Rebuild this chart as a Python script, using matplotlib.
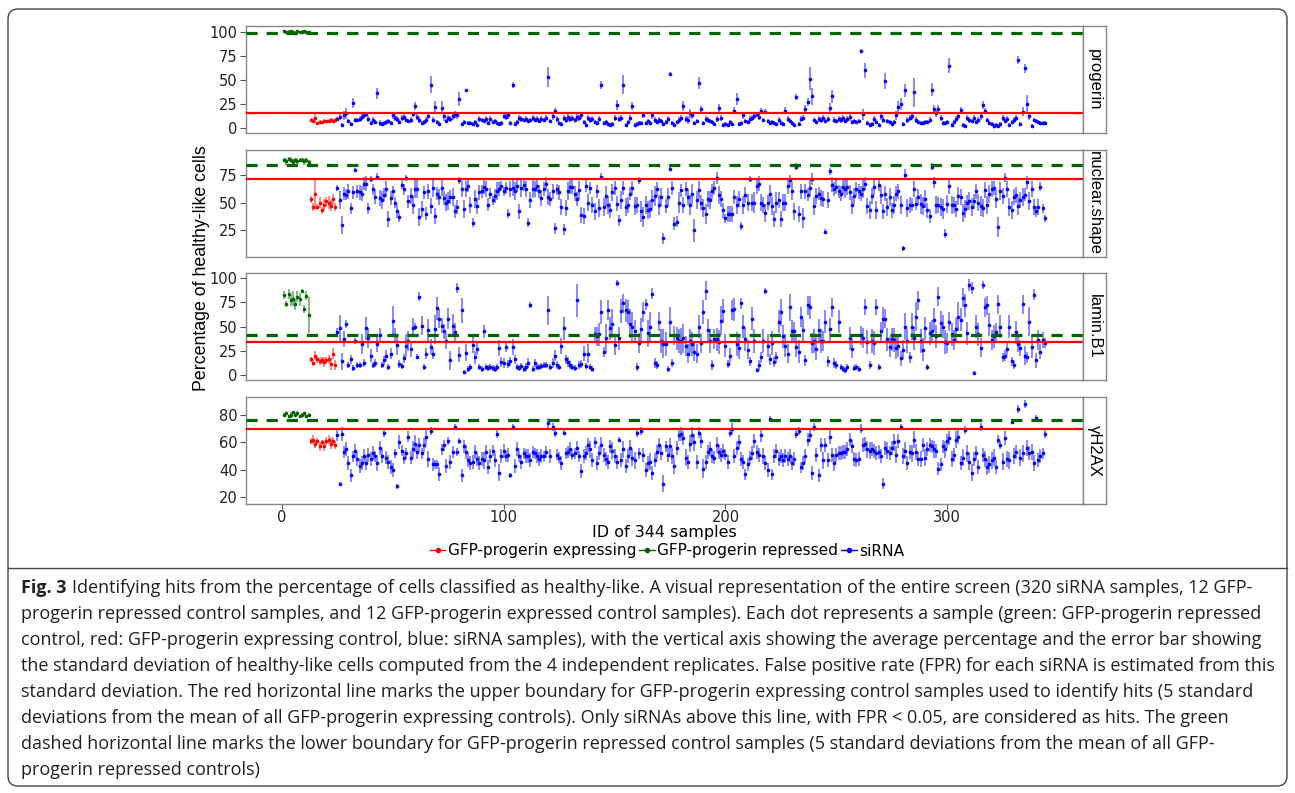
import numpy as np
import matplotlib
matplotlib.use("Agg")
import matplotlib.pyplot as plt
from matplotlib.lines import Line2D
from matplotlib.patches import FancyBboxPatch
from matplotlib.transforms import IdentityTransform


def vals(s):
    return np.array(s.split(), dtype=float)


panel_names = ["progerin", "nuclear.shape", "lamin.B1", "γH2AX"]

# controls: 12 GFP-progerin repressed (green), 12 GFP-progerin expressing (red)
green_mean = [
    vals("101 100 100 101 100 99 101 100 100 101 100 100"),
    vals("88 87 89 88 86 88 87 88 88 87 88 86"),
    vals("83 73 84 77 79 73 81 78 87 68 82 62"),
    vals("80 81 79 80 82 80 81 79 80 81 79 80"),
]
green_sd = [
    vals("1 1 2 1 1 1 1 1 2 1 1 1"),
    vals("2 3 2 3 3 2 3 2 2 3 2 2"),
    vals("4 3 5 6 8 6 6 7 2 4 5 19"),
    vals("1 1 1 2 1 1 2 1 1 1 1 1"),
]
red_mean = [
    vals("8 7 10 5 6 6 7 7 7 8 7 8"),
    vals("53 46 58 46 50 43 48 51 50 47 53 46"),
    vals("16 12 20 16 14 15 13 15 16 11 22 10"),
    vals("61 62 59 61 57 60 57 61 62 59 61 58"),
]
red_sd = [
    vals("2 2 4 1 2 1 2 1 2 2 1 2"),
    vals("3 4 14 3 5 3 5 4 6 5 5 4"),
    vals("3 3 5 4 4 4 5 4 5 6 6 5"),
    vals("2 3 3 2 3 2 3 3 3 4 3 3"),
]

# siRNA samples (IDs 25..344)
prog_mean = vals("""
9 11 3 13 15 7 4 26 8 8 9 11 13 14 9 5 8 6 36 5
4 5 6 7 5 13 10 9 6 10 11 8 7 8 14 23 11 8 5 6
8 12 45 8 22 6 4 21 12 7 10 9 12 14 13 30 4 6 39 5
5 4 6 3 9 8 7 9 5 9 6 7 5 4 5 12 11 13 5 45
4 6 10 9 8 9 7 8 10 8 9 7 9 8 10 53 7 12 18 9
5 4 10 8 11 9 10 8 11 10 13 6 3 10 8 9 6 5 9 45
5 6 4 3 4 10 24 9 10 45 3 6 10 23 3 4 5 5 13 5
7 5 13 8 6 8 7 4 6 9 56 5 3 6 8 10 23 9 8 15
13 5 7 47 20 5 9 8 7 6 4 9 21 10 3 4 3 6 4 18
30 4 5 13 7 6 9 10 12 14 11 18 8 17 7 5 6 5 4 8
5 4 18 9 7 5 3 32 4 9 10 20 27 51 33 8 6 9 8 10
7 9 21 33 8 7 9 8 10 7 9 11 6 7 6 7 80 14 60 5
3 4 9 6 3 12 8 49 7 6 4 6 13 22 25 4 39 8 10 12
37 8 6 5 5 6 6 8 40 20 15 20 10 5 5 6 65 3 6 9
12 19 3 2 10 8 7 10 6 8 12 24 18 8 5 4 2 3 2 4
10 7 9 3 6 8 10 71 4 17 62 25 12 2 8 7 6 5 5 5
""")
prog_sd = vals("""
2 3 2 5 6 2 2 5 2 2 3 3 3 3 3 2 3 2 6 3
2 2 2 2 2 4 3 3 2 3 3 2 2 3 3 4 3 3 2 2
3 3 9 3 6 2 2 7 5 2 3 3 4 4 4 7 2 2 2 2
2 2 2 2 3 2 2 3 2 3 2 2 2 2 2 3 3 4 2 3
2 2 3 3 2 3 2 2 3 2 3 2 3 2 3 10 2 4 3 3
2 2 3 3 4 3 3 2 4 3 4 2 2 3 3 3 2 2 3 4
2 2 2 2 2 3 5 3 3 10 2 2 3 4 2 2 2 2 3 2
2 2 4 3 2 3 2 2 2 3 2 2 2 2 3 3 5 3 4 5
4 2 2 6 3 2 3 3 2 2 2 3 4 3 2 2 2 2 2 4
6 2 2 4 2 2 3 3 3 3 3 3 2 3 2 2 2 2 2 3
2 2 4 3 2 2 2 3 2 3 3 4 4 12 9 2 2 3 3 3
2 3 5 7 3 2 3 3 3 2 3 4 2 2 2 2 2 6 8 2
2 2 3 2 2 4 3 8 2 2 2 2 5 6 6 2 7 3 3 4
15 3 2 2 2 2 2 3 7 4 4 4 3 2 2 2 8 2 2 3
4 3 2 2 3 3 2 3 2 3 4 4 3 2 2 2 2 2 2 2
3 2 3 2 2 3 3 4 2 5 5 9 4 2 2 2 2 2 2 2
""")

nuc_mean = vals("""
63 52 30 58 57 60 45 59 79 60 59 58 67 67 45 71 62 55 73 54
52 57 62 35 54 60 50 42 37 66 62 72 51 56 48 62 62 37 44 59
40 60 47 63 38 58 55 63 54 50 51 55 55 42 46 70 62 44 62 65
48 32 53 47 59 60 64 62 48 58 52 56 60 62 65 60 63 40 62 63
60 65 42 63 66 62 32 52 62 62 65 60 54 62 67 55 53 60 27 62
59 46 26 45 60 64 64 58 53 61 39 38 65 50 63 48 42 60 45 73
46 56 48 43 59 63 49 34 52 63 46 48 58 63 47 48 70 42 37 48
43 44 52 56 62 48 55 18 47 55 80 63 31 33 50 61 48 62 55 48
58 25 52 61 50 45 40 53 52 60 63 72 57 53 43 36 40 40 40 55
48 53 29 48 57 50 71 50 50 65 67 50 48 41 50 58 47 35 50 52
35 50 50 65 70 60 42 82 40 60 36 60 57 63 71 47 56 58 54 53
24 52 78 66 62 64 60 58 64 62 64 59 48 56 62 60 58 62 67 47
43 56 64 43 66 57 42 58 46 55 43 48 58 60 48 9 75 45 48 48
62 49 55 49 47 53 43 38 82 68 48 48 46 44 22 49 65 48 48 44
56 55 41 44 50 51 46 51 60 50 47 45 61 48 58 62 63 53 28 60
56 72 62 46 43 55 57 47 52 55 57 68 51 62 46 42 46 64 45 36
""")
nuc_sd = vals("""
3 8 8 6 5 7 5 6 2 6 7 7 6 7 5 3 5 6 3 7
8 6 7 7 6 5 5 6 4 4 5 3 6 7 8 8 8 8 7 6
6 7 7 8 7 6 7 7 6 8 8 6 8 6 6 3 7 8 7 6
7 4 8 7 7 6 6 7 6 5 4 6 8 6 4 4 5 4 7 7
8 6 7 8 6 7 4 7 8 7 6 6 7 6 6 7 6 7 5 5
7 7 5 7 8 6 6 7 6 8 7 7 6 8 5 7 8 6 8 3
8 9 8 7 8 6 7 5 8 6 8 7 6 6 8 7 3 9 9 8
8 8 9 9 6 9 8 5 6 8 2 6 6 5 9 6 7 6 7 9
9 10 8 8 7 8 9 7 8 7 6 5 8 7 7 4 7 7 7 6
8 7 4 8 7 8 3 8 9 7 7 8 7 8 7 8 8 7 9 7
7 8 8 7 5 8 8 3 7 7 9 7 6 7 5 8 7 6 7 7
2 7 3 7 6 6 6 7 6 8 7 7 8 7 6 7 7 8 6 7
8 7 7 8 6 8 7 7 8 8 7 8 7 7 8 2 5 8 7 6
7 6 7 9 8 8 7 6 3 5 8 7 8 9 4 8 7 8 7 7
8 7 8 8 7 8 8 7 7 8 9 8 7 8 8 7 6 8 9 8
7 4 7 8 8 7 7 8 7 8 6 6 8 7 7 5 7 4 4 3
""")

lam_mean = vals("""
44 48 14 37 53 10 16 7 35 10 10 32 12 48 38 20 10 12 32 41
10 15 20 8 22 56 41 31 11 9 17 30 35 27 49 50 19 81 51 8
22 46 29 22 47 69 58 51 45 35 58 15 51 44 90 21 67 3 23 6
8 31 18 27 8 6 45 8 7 8 7 6 8 28 13 12 29 11 14 29
16 8 7 9 6 8 12 72 6 12 8 8 9 10 10 67 8 12 20 10
8 30 48 16 13 10 8 7 77 10 11 22 9 22 8 6 42 40 42 65
24 38 67 48 53 31 95 38 66 74 67 65 53 50 45 8 33 47 65 73
43 50 84 12 10 55 35 32 32 6 55 12 41 38 35 35 38 30 22 35
32 24 22 50 33 65 87 46 35 10 37 37 34 56 66 30 11 20 67 68
32 28 74 50 37 26 14 58 35 5 10 18 35 87 30 16 33 13 18 55
65 40 30 22 70 45 45 29 24 60 46 15 72 70 33 35 27 46 35 35
55 14 47 70 12 10 55 8 6 5 8 38 27 7 8 6 41 38 70 34
10 35 33 70 8 45 58 58 37 29 37 36 28 30 17 26 50 35 18 50
38 60 77 35 26 48 8 43 45 57 40 81 54 50 34 33 55 42 36 47
60 57 80 72 43 93 90 2 50 42 28 93 70 72 52 36 40 44 73 50
18 20 27 50 14 10 44 32 28 73 20 18 55 29 83 15 36 24 36 33
""")
lam_sd = vals("""
4 14 9 8 4 3 5 3 3 3 3 10 4 12 10 7 3 4 8 8
3 5 6 3 6 15 8 10 4 3 5 12 10 8 10 4 3 5 10 3
6 12 8 6 15 12 10 8 8 8 11 10 12 10 5 8 13 2 9 3
3 8 7 6 3 3 7 3 3 3 3 3 3 8 5 5 5 4 5 8
5 3 3 3 3 4 5 3 3 4 3 3 3 3 3 15 3 5 6 4
3 8 12 5 5 4 3 3 17 4 4 8 3 10 3 3 8 10 12 12
5 15 10 12 15 10 3 12 12 10 12 12 15 15 12 4 10 12 10 6
14 15 6 5 4 10 12 15 12 3 15 4 10 12 12 14 15 10 10 12
12 10 10 12 10 12 10 12 12 5 10 12 12 15 12 12 4 8 10 12
12 12 6 12 12 10 5 12 12 2 5 6 12 3 12 6 12 5 6 12
14 12 12 10 14 12 10 10 12 10 12 6 10 12 10 12 12 12 12 10
12 6 12 10 5 4 12 3 3 3 3 12 10 3 3 3 10 10 8 12
4 12 12 8 3 10 12 10 12 10 12 12 12 12 8 10 14 12 6 14
12 15 10 12 12 12 3 12 12 12 12 10 12 12 12 10 10 12 10 12
15 12 10 12 12 6 6 2 12 12 10 4 10 10 12 10 12 10 10 12
5 6 6 12 5 4 12 8 8 10 10 6 15 12 6 8 10 8 8 5
""")

h2ax_mean = vals("""
65 30 66 53 55 45 36 50 54 48 43 45 50 45 51 48 52 50 45 56
50 67 49 46 42 40 52 28 60 54 49 52 64 49 55 59 53 58 52 58
64 48 68 44 44 44 37 55 58 43 61 46 53 71 53 61 36 57 53 47
45 46 53 48 45 48 47 53 42 50 54 47 66 38 50 54 50 51 36 71
43 55 50 46 52 50 50 47 53 52 50 48 50 50 53 74 50 71 67 51
49 45 67 52 53 55 51 52 56 50 39 50 52 58 55 47 60 45 52 58
51 48 46 57 54 50 46 62 47 55 43 50 56 49 47 67 52 68 51 40
45 46 38 47 53 58 52 30 57 51 57 50 43 56 65 66 63 49 46 59
65 60 46 67 61 41 46 53 55 50 49 58 53 51 54 51 46 67 70 50
56 60 48 46 37 44 49 52 61 53 51 65 50 45 40 77 37 50 54 48
50 47 50 48 50 45 48 66 68 42 45 50 62 65 38 71 51 36 58 47
58 47 64 51 45 51 52 52 53 53 55 62 57 48 47 48 70 58 59 55
54 55 54 52 53 50 30 56 54 52 56 60 51 61 71 50 54 45 53 52
62 53 48 48 58 49 55 58 57 55 54 41 44 57 55 61 63 48 51 62
64 45 49 69 52 46 38 48 52 42 71 51 48 42 44 47 49 42 62 58
46 63 48 47 75 50 53 84 49 52 88 56 52 53 45 78 47 50 52 66
""")
h2ax_sd = vals("""
4 1 5 4 5 5 5 4 5 5 5 5 5 5 5 5 5 4 6 5
5 3 5 5 5 5 3 2 5 4 5 4 4 5 6 6 5 5 4 5
5 6 3 5 3 3 5 4 4 5 3 5 4 2 3 2 5 5 5 5
5 5 5 5 5 5 6 5 5 5 4 5 3 6 5 5 4 5 2 2
5 5 4 5 4 5 5 5 4 4 5 5 5 4 4 4 5 3 3 4
4 5 2 4 4 5 4 4 5 4 5 5 5 5 6 5 4 5 5 6
5 5 5 5 6 5 5 2 5 6 5 5 6 6 6 3 4 3 5 5
5 6 5 5 5 5 5 6 4 5 6 6 6 5 4 5 5 6 5 6
6 6 5 4 5 7 5 5 5 5 5 6 5 5 5 4 5 3 4 5
5 5 5 5 4 5 5 5 5 5 5 5 6 5 5 2 4 5 5 5
5 5 5 5 5 5 5 3 3 4 5 5 5 5 5 3 5 5 5 6
5 5 5 5 6 5 5 5 5 5 5 5 5 5 5 5 3 5 5 6
6 5 5 5 5 5 4 5 6 5 5 6 6 5 2 6 6 5 5 6
6 6 5 6 5 6 5 5 5 6 5 5 5 5 6 5 5 6 5 6
5 5 6 3 6 6 6 5 5 5 3 5 6 6 6 6 6 5 3 3
6 5 6 6 2 6 5 3 6 6 3 6 5 6 6 2 5 5 4 3
""")

blue_mean = [prog_mean, nuc_mean, lam_mean, h2ax_mean]
blue_sd = [prog_sd, nuc_sd, lam_sd, h2ax_sd]

# hit thresholds (red: expressing upper bound, green: repressed lower bound)
red_line = [15.0, 71.1, 33.8, 69.5]
green_line = [99.3, 83.5, 41.6, 76.3]

y_limits = [(-5.2, 106), (1.7, 97), (-5.1, 105.1), (15.4, 92.7)]
y_ticks = [[0, 25, 50, 75, 100], [25, 50, 75], [0, 25, 50, 75, 100], [20, 40, 60, 80]]
x_ticks = [0, 100, 200, 300]

legend_labels = ["GFP-progerin expressing", "GFP-progerin repressed", "siRNA"]

caption_bold = "Fig. 3"
caption_lines = [
    "Identifying hits from the percentage of cells classified as healthy-like. A visual representation of the entire screen (320 siRNA samples, 12 GFP-",
    "progerin repressed control samples, and 12 GFP-progerin expressed control samples). Each dot represents a sample (green: GFP-progerin repressed",
    "control, red: GFP-progerin expressing control, blue: siRNA samples), with the vertical axis showing the average percentage and the error bar showing",
    "the standard deviation of healthy-like cells computed from the 4 independent replicates. False positive rate (FPR) for each siRNA is estimated from this",
    "standard deviation. The red horizontal line marks the upper boundary for GFP-progerin expressing control samples used to identify hits (5 standard",
    "deviations from the mean of all GFP-progerin expressing controls). Only siRNAs above this line, with FPR < 0.05, are considered as hits. The green",
    "dashed horizontal line marks the lower boundary for GFP-progerin repressed control samples (5 standard deviations from the mean of all GFP-",
    "progerin repressed controls)",
]

plt.rcParams['font.family'] = ['Liberation Sans', 'DejaVu Sans']
wide = ['DejaVu Sans']  # the reference's horizontal text is set rather wide

W, H = 1295, 793
fig = plt.figure(figsize=(W / 100, H / 100), dpi=100)


def fx(px):
    return px / W


def fy(py):
    return 1 - py / H


BLUE, RED, GREEN = "#0000FF", "#FF0000", "#006400"
x_green = np.arange(1, 13)
x_red = np.arange(13, 25)

left, right = 246, 1083
tops = [26.3, 150.0, 273.3, 397.3]
height = 106.5

for k in range(4):
    ax = fig.add_axes([fx(left), fy(tops[k] + height), fx(right) - fx(left), height / H])
    x_blue = np.arange(25, 25 + len(blue_mean[k]))
    for xs, m, s, c in [(x_blue, blue_mean[k], blue_sd[k], BLUE),
                        (x_red, red_mean[k], red_sd[k], RED),
                        (x_green, green_mean[k], green_sd[k], GREEN)]:
        ax.vlines(xs, m - s, m + s, color=c, alpha=0.5, lw=1.3, zorder=2)
        ax.plot(xs, m, 'o', ms=2.6, color=c, mec='none', zorder=3)
    ax.axhline(red_line[k], color=RED, lw=1.6, zorder=4)
    ax.axhline(green_line[k], color=GREEN, lw=2.3, dashes=(3.5, 2.8), zorder=4)
    ax.set_xlim(-16.2, 361.2)
    ax.set_ylim(*y_limits[k])
    ax.set_yticks(y_ticks[k])
    ax.tick_params(axis='y', length=4, width=0.8, color='#555555', labelsize=10.5,
                   labelcolor='#222222', pad=2)
    if k == 3:
        ax.set_xticks(x_ticks)
        ax.tick_params(axis='x', length=3.5, width=0.8, color='#555555', labelsize=10.5,
                       labelcolor='#222222', pad=1)
    else:
        ax.tick_params(axis='x', bottom=False, labelbottom=False)
    for lab in ax.get_xticklabels() + ax.get_yticklabels():
        lab.set_family(wide)
    for sp in ax.spines.values():
        sp.set_color('#888888')
        sp.set_linewidth(1.0)

    strip = fig.add_axes([fx(right), fy(tops[k] + height), fx(1106) - fx(right), height / H])
    strip.set_xticks([])
    strip.set_yticks([])
    for sp in strip.spines.values():
        sp.set_color('#888888')
        sp.set_linewidth(1.0)
    strip.text(0.5, 0.5, panel_names[k], rotation=270, ha='center', va='center',
               fontsize=12, transform=strip.transAxes)

fig.text(fx(664), fy(533), "ID of 344 samples", ha='center', va='center', fontsize=11.5,
         family=wide)
fig.text(fx(202), fy(268), "Percentage of healthy-like cells", ha='center', va='center',
         rotation=90, fontsize=12.8)

handles = [Line2D([0], [0], color=c, marker='o', ms=3, lw=1) for c in (RED, GREEN, BLUE)]
fig.legend(handles, legend_labels, loc='center', bbox_to_anchor=(fx(667), fy(551)),
           ncol=3, frameon=False, prop={'family': wide, 'size': 11.1},
           handlelength=1.0, handletextpad=0.15, columnspacing=0.2)

# frame around figure and caption
tr = IdentityTransform()
box = FancyBboxPatch((8, H - 786), 1279, 777, boxstyle="round,pad=0,rounding_size=10",
                     transform=tr, fill=False, edgecolor='#444444', lw=1.0)
fig.patches.append(box)
fig.add_artist(Line2D([8, 1287], [H - 568, H - 568], transform=tr, color='#444444', lw=1.0))

cap_color = '#231F20'
cap_font = ['Open Sans', 'DejaVu Sans']
cap_size = 13.0
renderer = fig.canvas.get_renderer()
for i, line in enumerate(caption_lines):
    y = fy(588 + 26 * i)
    if i == 0:
        tb = fig.text(fx(21), y, caption_bold, fontsize=cap_size, fontweight='bold',
                      family=cap_font, color=cap_color, va='center')
        ext = tb.get_window_extent(renderer)
        fig.text((ext.x1 + 5) / W, y, line, fontsize=cap_size, family=cap_font,
                 color=cap_color, va='center')
    else:
        fig.text(fx(21), y, line, fontsize=cap_size, family=cap_font, color=cap_color,
                 va='center')

fig.savefig("out.png", dpi=100)
